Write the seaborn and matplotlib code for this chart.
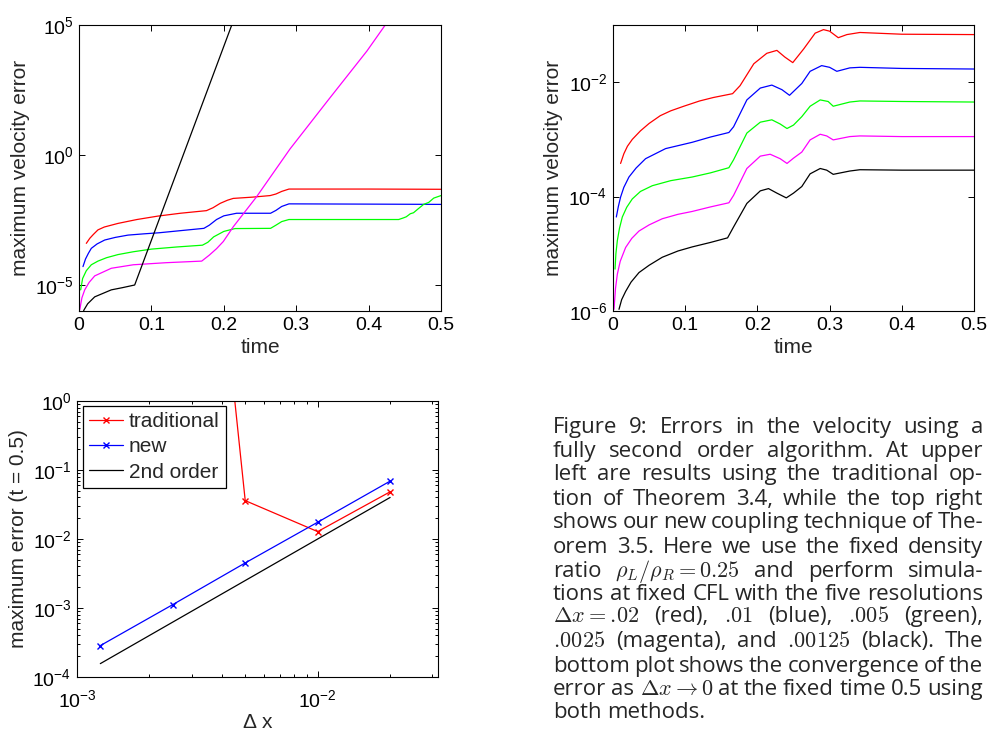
import re
import numpy as np
import pandas as pd
import matplotlib
matplotlib.use("Agg")
import matplotlib.pyplot as plt
import seaborn as sns

# ---- top left: traditional coupling, error vs time ----
tl_red_t = [0.0101, 0.015, 0.02, 0.0262, 0.035, 0.0539, 0.08, 0.109, 0.14, 0.176, 0.185, 0.195, 0.205,
            0.213, 0.24, 0.264, 0.272, 0.28, 0.29, 0.4, 0.5]
tl_red_e = [4.0e-4, 6.3e-4, 8.9e-4, 1.32e-3, 1.70e-3, 2.34e-3, 3.3e-3, 4.47e-3, 5.75e-3, 7.24e-3, 9.33e-3, 1.38e-2, 1.82e-2,
            2.14e-2, 2.40e-2, 2.75e-2, 3.16e-2, 3.98e-2, 4.9e-2, 4.9e-2, 4.8e-2]

tl_blue_t = [0.0055, 0.009, 0.013, 0.017, 0.025, 0.0355, 0.05, 0.0677, 0.09, 0.1105, 0.14, 0.1725, 0.18,
             0.19, 0.2, 0.2177, 0.2646, 0.272, 0.28, 0.29, 0.4, 0.5]
tl_blue_e = [5.1e-5, 1.0e-4, 1.66e-4, 2.57e-4, 3.8e-4, 5.37e-4, 6.76e-4, 8.3e-4, 9.3e-4, 1.02e-3, 1.23e-3, 1.51e-3, 2.0e-3,
             3.3e-3, 4.57e-3, 5.75e-3, 5.75e-3, 7.4e-3, 1.05e-2, 1.32e-2, 1.29e-2, 1.26e-2]

tl_green_t = [0.0023, 0.005, 0.0101, 0.017, 0.0262, 0.038, 0.0539, 0.075, 0.1, 0.135, 0.1705, 0.178, 0.186,
              0.2, 0.2154, 0.2646, 0.272, 0.28, 0.29, 0.4415, 0.448, 0.452, 0.4576, 0.462, 0.468, 0.476,
              0.483, 0.49, 0.5]
tl_green_e = [6.5e-6, 1.78e-5, 3.55e-5, 6.0e-5, 8.3e-5, 1.12e-4, 1.48e-4, 1.9e-4, 2.4e-4, 2.9e-4, 3.4e-4, 4.4e-4, 7.1e-4,
              1.15e-3, 1.48e-3, 1.51e-3, 2.0e-3, 2.75e-3, 3.3e-3, 3.3e-3, 3.8e-3, 4.2e-3, 5.5e-3, 6.0e-3, 8.3e-3, 1.26e-2,
              1.5e-2, 2.2e-2, 2.75e-2]

tl_mag_t = [0.001, 0.004, 0.0079, 0.014, 0.0217, 0.0446, 0.075, 0.12, 0.1695, 0.18, 0.19, 0.1993, 0.2131,
            0.2454, 0.2914, 0.3444, 0.3977, 0.423, 0.44]
tl_mag_e = [1.1e-6, 3.2e-6, 6.5e-6, 1.26e-5, 2.24e-5, 4.4e-5, 6.0e-5, 7.2e-5, 8.3e-5, 1.41e-4, 2.5e-4, 4.7e-4, 1.74e-3,
            2.5e-2, 1.7, 1.32e2, 1.0e4, 1.0e5, 4.0e5]

tl_black_t = [0.005, 0.0069, 0.012, 0.0217, 0.0446, 0.06, 0.0769, 0.211, 0.22]
tl_black_e = [7.9e-7, 1.1e-6, 1.9e-6, 3.5e-6, 6.5e-6, 7.9e-6, 1.0e-5, 1.0e5, 5.0e5]

# ---- top right: new coupling, error vs time ----
tr_red_t = [0.0105, 0.015, 0.02, 0.0267, 0.038, 0.05, 0.0655, 0.08, 0.098, 0.12, 0.139, 0.1656, 0.176,
            0.195, 0.213, 0.227, 0.238, 0.249, 0.264, 0.28, 0.2915, 0.30, 0.312, 0.324, 0.342, 0.4, 0.5]
tr_red_e = [3.8e-4, 5.6e-4, 7.6e-4, 1.0e-3, 1.41e-3, 1.9e-3, 2.6e-3, 3.16e-3, 3.8e-3, 4.7e-3, 5.4e-3, 6.3e-3, 8.7e-3,
            2.1e-2, 3.2e-2, 3.6e-2, 2.75e-2, 2.2e-2, 3.8e-2, 7.2e-2, 8.3e-2, 7.8e-2, 6.0e-2, 6.8e-2, 7.4e-2, 6.9e-2, 6.8e-2]

tr_blue_t = [0.0046, 0.0075, 0.0105, 0.015, 0.0221, 0.032, 0.0451, 0.0728, 0.1097, 0.135, 0.1605, 0.167, 0.1854,
             0.204, 0.22, 0.234, 0.2445, 0.2615, 0.273, 0.289, 0.30, 0.31, 0.328, 0.342, 0.4, 0.5]
tr_blue_e = [4.4e-5, 6.8e-5, 9.8e-5, 1.45e-4, 2.2e-4, 3.16e-4, 4.6e-4, 6.9e-4, 8.9e-4, 1.1e-3, 1.32e-3, 1.66e-3, 4.9e-3,
             7.9e-3, 8.9e-3, 7.4e-3, 5.9e-3, 9.5e-3, 1.55e-2, 1.95e-2, 1.82e-2, 1.55e-2, 1.78e-2, 1.82e-2, 1.74e-2, 1.7e-2]

tr_green_t = [0.0028, 0.004, 0.006, 0.009, 0.0129, 0.019, 0.0267, 0.038, 0.0544, 0.08, 0.1097, 0.135, 0.1605,
              0.167, 0.1854, 0.204, 0.22, 0.2315, 0.241, 0.25, 0.2615, 0.273, 0.287, 0.298, 0.305, 0.328, 0.342,
              0.4, 0.5]
tr_green_e = [5.4e-6, 1.0e-5, 1.7e-5, 2.8e-5, 4.4e-5, 6.5e-5, 9.1e-5, 1.23e-4, 1.55e-4, 1.9e-4, 2.2e-4, 2.6e-4, 3.2e-4,
              4.4e-4, 1.29e-3, 2.0e-3, 2.2e-3, 1.86e-3, 1.55e-3, 1.78e-3, 2.5e-3, 3.8e-3, 4.9e-3, 4.6e-3, 3.8e-3,
              4.5e-3, 4.7e-3, 4.6e-3, 4.5e-3]

tr_mag_t = [0.0014, 0.0035, 0.006, 0.01, 0.0175, 0.026, 0.036, 0.05, 0.0682, 0.09, 0.1097, 0.135, 0.1605,
            0.167, 0.1854, 0.204, 0.2177, 0.2315, 0.241, 0.25, 0.2615, 0.273, 0.287, 0.296, 0.305, 0.328, 0.342,
            0.4, 0.5]
tr_mag_e = [1.07e-6, 2.5e-6, 4.4e-6, 7.4e-6, 1.29e-5, 1.86e-5, 2.5e-5, 3.2e-5, 4.1e-5, 4.9e-5, 5.5e-5, 6.6e-5, 7.8e-5,
            1.05e-4, 3.1e-4, 5.1e-4, 5.5e-4, 4.6e-4, 3.8e-4, 4.7e-4, 6.0e-4, 9.8e-4, 1.23e-3, 1.15e-3, 9.8e-4,
            1.12e-3, 1.15e-3, 1.12e-3, 1.12e-3]

tr_black_t = [0.0083, 0.012, 0.0175, 0.025, 0.036, 0.05, 0.0682, 0.09, 0.1097, 0.135, 0.1587, 0.167, 0.1854,
              0.204, 0.2154, 0.227, 0.24, 0.25, 0.2615, 0.273, 0.287, 0.296, 0.305, 0.328, 0.342, 0.4, 0.5]
tr_black_e = [1.07e-6, 1.58e-6, 2.2e-6, 3.2e-6, 4.7e-6, 6.3e-6, 8.7e-6, 1.12e-5, 1.32e-5, 1.58e-5, 1.9e-5, 2.95e-5, 7.6e-5,
              1.26e-4, 1.38e-4, 1.15e-4, 9.5e-5, 1.15e-4, 1.5e-4, 2.5e-4, 3.1e-4, 2.9e-4, 2.45e-4, 2.8e-4, 2.95e-4,
              2.9e-4, 2.9e-4]

# ---- bottom: convergence at t = 0.5 ----
dx = [0.00125, 0.0025, 0.005, 0.01, 0.02]
err_traditional = [1e26, 4e8, 3.6e-2, 1.28e-2, 4.83e-2]
err_new = [2.85e-4, 1.12e-3, 4.5e-3, 1.75e-2, 6.9e-2]
err_2nd = [1.5625e-4, 6.25e-4, 2.5e-3, 1.0e-2, 4.0e-2]

colors = ["#ff0000", "#0000ff", "#00ff00", "#ff00ff", "#000000"]

caption_lines = [
    "Figure 9:  Errors in the velocity using a",
    "fully second order algorithm.  At upper",
    "left are results using the traditional op-",
    "tion of Theorem 3.4, while the top right",
    "shows our new coupling technique of The-",
    "orem 3.5.  Here we use the fixed density",
    r"ratio $\rho_L/\rho_R = 0.25$ and perform simula-",
    "tions at fixed CFL with the five resolutions",
    r"$\Delta x = .\!02$ (red), $.\!01$ (blue), $.\!005$ (green),",
    r"$.\!0025$ (magenta), and $.\!00125$ (black). The",
    "bottom plot shows the convergence of the",
    r"error as $\Delta x \rightarrow 0$ at the fixed time 0.5 using",
    "both methods.",
]
caption_baselines = [433, 457, 480, 505, 528, 553, 577, 600, 622, 647, 672, 695, 718]

sns.set_theme(style="ticks")
plt.rcParams["font.family"] = ["Liberation Sans", "DejaVu Sans"]
plt.rcParams["mathtext.fontset"] = "custom"
plt.rcParams["mathtext.rm"] = "Liberation Sans"
plt.rcParams["mathtext.it"] = "Liberation Sans:italic"
plt.rcParams["axes.linewidth"] = 0.8
plt.rcParams["axes.edgecolor"] = "black"

TICK_FS = 14
LAB_FS = 15
W, H = 991, 731
fig = plt.figure(figsize=(W / 100, H / 100), dpi=100)


def px_axes(l, r, t, b):
    return fig.add_axes([l / W, 1 - b / H, (r - l) / W, (b - t) / H])


def style_axes(ax, minor=False):
    ax.tick_params(which="both", direction="in", top=True, right=True, labelsize=TICK_FS,
                   colors="black", width=0.7)
    ax.tick_params(which="major", length=4, pad=4)
    ax.tick_params(which="minor", length=2)
    if not minor:
        ax.minorticks_off()


ax1 = px_axes(79, 441, 25, 311)
for t, e, c in zip([tl_red_t, tl_blue_t, tl_green_t, tl_mag_t, tl_black_t],
                   [tl_red_e, tl_blue_e, tl_green_e, tl_mag_e, tl_black_e], colors):
    sns.lineplot(x=t, y=e, color=c, linewidth=0.9, ax=ax1, sort=False)
ax1.set_yscale("log")
ax1.set_xlim(0, 0.5)
ax1.set_ylim(1e-6, 1e5)
ax1.set_yticks([1e-5, 1e0, 1e5])
ax1.set_xticks([0, 0.1, 0.2, 0.3, 0.4, 0.5])
ax1.set_xticklabels(["0", "0.1", "0.2", "0.3", "0.4", "0.5"])
style_axes(ax1)
ax1.set_xlabel("time", fontsize=LAB_FS)
ax1.set_ylabel("maximum velocity error", fontsize=LAB_FS)
ax1.yaxis.set_label_coords(-0.136, 0.5)
ax1.xaxis.set_label_coords(0.5, -0.095)

ax2 = px_axes(613, 974, 25, 311)
for t, e, c in zip([tr_red_t, tr_blue_t, tr_green_t, tr_mag_t, tr_black_t],
                   [tr_red_e, tr_blue_e, tr_green_e, tr_mag_e, tr_black_e], colors):
    sns.lineplot(x=t, y=e, color=c, linewidth=0.9, ax=ax2, sort=False)
ax2.set_yscale("log")
ax2.set_xlim(0, 0.5)
ax2.set_ylim(1e-6, 1e-1)
ax2.set_yticks([1e-6, 1e-4, 1e-2])
ax2.set_xticks([0, 0.1, 0.2, 0.3, 0.4, 0.5])
ax2.set_xticklabels(["0", "0.1", "0.2", "0.3", "0.4", "0.5"])
style_axes(ax2)
ax2.set_xlabel("time", fontsize=LAB_FS)
ax2.set_ylabel("maximum velocity error", fontsize=LAB_FS)
ax2.yaxis.set_label_coords(-0.138, 0.5)
ax2.xaxis.set_label_coords(0.5, -0.095)

ax3 = px_axes(77, 438, 401, 677)
conv = pd.DataFrame({"dx": dx, "traditional": err_traditional, "new": err_new, "2nd order": err_2nd})
sns.lineplot(data=conv, x="dx", y="traditional", color="#ff0000", marker="x", markersize=4,
             markeredgewidth=1, markeredgecolor="#ff0000", linewidth=0.9, ax=ax3, label="traditional")
sns.lineplot(data=conv, x="dx", y="new", color="#0000ff", marker="x", markersize=4,
             markeredgewidth=1, markeredgecolor="#0000ff", linewidth=0.9, ax=ax3, label="new")
sns.lineplot(data=conv, x="dx", y="2nd order", color="#000000", linewidth=0.9, ax=ax3, label="2nd order")
ax3.set_xscale("log")
ax3.set_yscale("log")
ax3.set_xlim(1e-3, 10 ** -1.5)
ax3.set_ylim(1e-4, 1e0)
style_axes(ax3, minor=True)
ax3.tick_params(axis="x", which="major", pad=9)
ax3.set_xticks([1e-3, 1e-2])
ax3.set_yticks([1e-4, 1e-3, 1e-2, 1e-1, 1e0])
ax3.set_xlabel(r"$\Delta$ x", fontsize=LAB_FS)
ax3.set_ylabel("maximum error (t = 0.5)", fontsize=LAB_FS)
ax3.yaxis.set_label_coords(-0.136, 0.5)
ax3.xaxis.set_label_coords(0.5, -0.13)
leg = ax3.legend(loc="upper left", bbox_to_anchor=(0.017, 0.982), borderaxespad=0, fontsize=LAB_FS,
                 frameon=True, fancybox=False, edgecolor="black", framealpha=1,
                 handlelength=1.6, handletextpad=0.3, labelspacing=0.3, borderpad=0.3)
leg.get_frame().set_linewidth(0.9)

# caption, justified line by line
CAP_FS = 16
cap_left, cap_right = 553, 983
fig.canvas.draw()
renderer = fig.canvas.get_renderer()
for i, line in enumerate(caption_lines):
    words = re.findall(r"\$[^$]*\$\S*|\S+", line)
    texts = [fig.text(0, 0, w, fontsize=CAP_FS, family="Open Sans", math_fontfamily="cm",
                      va="baseline", ha="left") for w in words]
    widths = [tx.get_window_extent(renderer).width for tx in texts]
    if i < len(caption_lines) - 1 and len(words) > 1:
        gap = (cap_right - cap_left - sum(widths)) / (len(words) - 1)
    else:
        gap = CAP_FS * 0.35
    x = cap_left
    yb = 1 - caption_baselines[i] / H
    for tx, wd in zip(texts, widths):
        tx.set_position((x / W, yb))
        x += wd + gap

fig.savefig("out.png", dpi=100)
